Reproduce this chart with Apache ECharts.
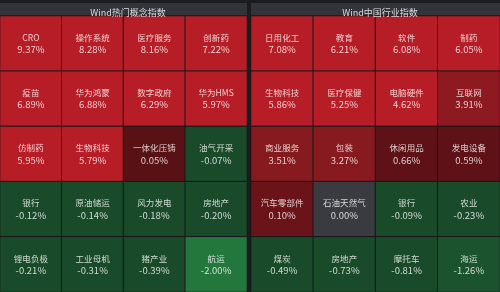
<!DOCTYPE html>
<html><head><meta charset="utf-8">
<script src="https://cdn.jsdelivr.net/npm/echarts@6/dist/echarts.min.js"></script>
<style>html,body{margin:0;padding:0;background:#1b1c20;}#c{width:500px;height:292px;}</style>
</head><body><div id="c"></div>
<script>
const leftTitle = 'Wind热门概念指数';
const rightTitle = 'Wind中国行业指数';
const leftNames = ['CRO','操作系统','医疗服务','创新药','疫苗','华为鸿蒙','数字政府','华为HMS','仿制药','生物科技','一体化压铸','油气开采','银行','原油储运','风力发电','房地产','锂电负极','工业母机','猪产业','航运'];
const leftValues = [9.37,8.28,8.16,7.22,6.89,6.88,6.29,5.97,5.95,5.79,0.05,-0.07,-0.12,-0.14,-0.18,-0.20,-0.21,-0.31,-0.39,-2.00];
const rightNames = ['日用化工','教育','软件','制药','生物科技','医疗保健','电脑硬件','互联网','商业服务','包装','休闲用品','发电设备','汽车零部件','石油天然气','银行','农业','煤炭','房地产','摩托车','海运'];
const rightValues = [7.08,6.21,6.08,6.05,5.86,5.25,4.62,3.91,3.51,3.27,0.66,0.59,0.10,0.00,-0.09,-0.23,-0.49,-0.73,-0.81,-1.26];
const cols = ['0','1','2','3'];
const rows = ['0','1','2','3','4'];

function toData(names, values){
  return values.map((v,i)=>({name:names[i], value:[i%4, Math.floor(i/4), v]}));
}
const FONT = '"Noto Sans CJK SC", "Noto Sans", sans-serif';
function series(idx, names, values){
  return {
    type:'heatmap', xAxisIndex:idx, yAxisIndex:idx,
    data: toData(names, values),
    itemStyle:{borderColor:'#15161a', borderWidth:1},
    label:{show:true, fontFamily:FONT, fontSize:9, lineHeight:12,
      color:'rgba(255,255,255,0.78)',
      formatter:p=>'{n|'+p.name+'}\n{v|'+p.value[2].toFixed(2)+'%}',
      rich:{
        n:{fontFamily:FONT, fontSize:8.5, lineHeight:12, color:'rgba(255,255,255,0.78)'},
        v:{fontFamily:FONT, fontSize:9.5, lineHeight:12, color:'rgba(255,255,255,0.78)'}
      }},
    emphasis:{disabled:true}
  };
}
const chart = echarts.init(document.getElementById('c'), null, {renderer:'canvas'});
chart.setOption({
  backgroundColor:'#1b1c20',
  animation:false,
  graphic:[
    {type:'rect', shape:{x:0,y:3,width:247,height:13}, style:{fill:'#32343a'}},
    {type:'rect', shape:{x:251,y:3,width:249,height:13}, style:{fill:'#32343a'}}
  ],
  title:[
    {text:leftTitle, left:123, top:3, textAlign:'center', textStyle:{color:'#d8d8dc', fontSize:9, fontWeight:'normal', fontFamily:FONT}},
    {text:rightTitle, left:375, top:3, textAlign:'center', textStyle:{color:'#d8d8dc', fontSize:9, fontWeight:'normal', fontFamily:FONT}}
  ],
  grid:[
    {left:0, top:16, width:247, height:276},
    {left:251, top:16, width:249, height:276}
  ],
  xAxis:[0,1].map(i=>({type:'category', gridIndex:i, data:cols, show:false})),
  yAxis:[0,1].map(i=>({type:'category', gridIndex:i, data:rows, inverse:true, show:false})),
  visualMap:{
    type:'piecewise', show:false, dimension:2, seriesIndex:[0,1],
    pieces:[
      {gte:4.5, color:'#b71d26'},
      {gte:3.7, lt:4.5, color:'#8d1a20'},
      {gte:3.0, lt:3.7, color:'#861a1f'},
      {gte:0.5, lt:3.0, color:'#5e1217'},
      {gte:0.08, lt:0.5, color:'#6a1419'},
      {gt:0, lt:0.08, color:'#581215'},
      {value:0, color:'#3a3b40'},
      {gte:-1.0, lt:0, color:'#194a29'},
      {gte:-1.5, lt:-1.0, color:'#1b532e'},
      {lt:-1.5, color:'#23773d'}
    ]
  },
  series:[series(0,leftNames,leftValues), series(1,rightNames,rightValues)]
});
</script></body></html>
